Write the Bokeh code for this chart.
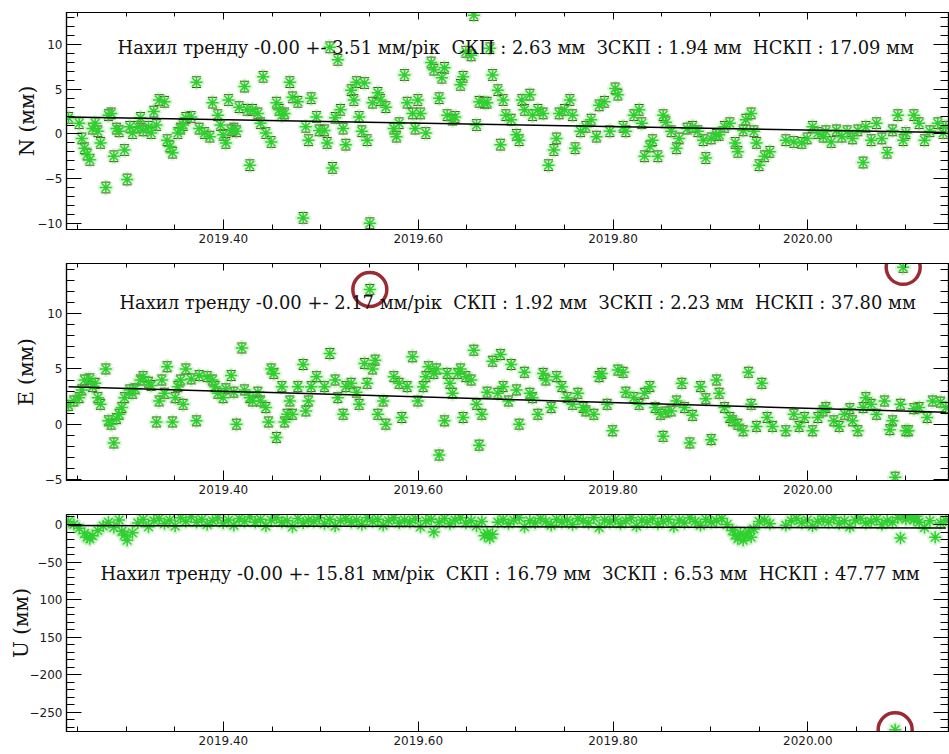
import numpy as np
from bokeh.plotting import figure
from bokeh.layouts import column
from bokeh.models import (FixedTicker, LinearAxis, Label, Range1d,
                          PrintfTickFormatter, CustomJSTickFormatter)
from bokeh.embed import file_html
from bokeh.resources import INLINE

# ---- daily GNSS solutions: epoch = day of year 2019 (values > 365 fall in 2020) ----
n_day = [88, 92, 93, 94, 95, 96, 97, 98, 99, 100,
         102, 103, 104, 105, 106, 107, 109, 110, 111, 112,
         114, 115, 116, 118, 119, 120, 121, 122, 124, 125,
         126, 127, 129, 130, 131, 132, 134, 136, 137, 139,
         141, 142, 144, 145, 146, 147, 148, 149, 150, 151,
         152, 154, 155, 156, 157, 159, 160, 161, 162, 164,
         166, 167, 168, 169, 171, 172, 174, 176, 177, 178,
         179, 181, 182, 184, 185, 186, 187, 188, 189, 190,
         191, 192, 194, 195, 196, 197, 198, 199, 200, 201,
         202, 204, 205, 207, 210, 211, 212, 214, 215, 217,
         218, 219, 220, 222, 224, 225, 227, 228, 229, 230,
         232, 233, 235, 236, 237, 239, 240, 241, 242, 244,
         245, 246, 247, 249, 250, 251, 252, 254, 256, 257,
         258, 259, 261, 262, 264, 266, 268, 270, 271, 272,
         274, 276, 277, 278, 280, 282, 284, 286, 287, 289,
         291, 293, 294, 296, 297, 300, 302, 303, 304, 306,
         307, 309, 311, 312, 314, 316, 317, 320, 322, 324,
         326, 327, 329, 331, 332, 334, 336, 338, 339, 341,
         342, 344, 345, 346, 347, 349, 351, 357, 360, 363,
         365, 367, 369, 371, 372, 374, 376, 378, 380, 382,
         384, 386, 387, 389, 391, 393, 395, 397, 399, 401,
         402, 405, 407, 409, 411, 414, 416, 417]
n_val = [1.8, 1.2, -0.5, -1.6, -2.3, -2.9, 0.6, 1.2, 0.3, -1.0,
         -6.0, 2.1, 2.3, -2.5, 0.6, 0.3, -1.8, -5.1, 0.8, 0.1,
         0.8, 1.8, 0.4, 0.8, 0.1, 2.5, 1.0, 3.8, 3.6, -0.7,
         -1.4, -2.1, 0.1, 0.6, 1.0, 1.8, 1.9, 5.8, 0.6, 0.1,
         -0.3, 3.5, 2.1, 1.0, -0.1, -1.0, 3.8, 0.4, 0.6, 0.3,
         3.0, 5.3, 2.7, -3.5, 2.7, 2.3, 1.2, 6.4, 0.1, -0.9,
         3.5, 2.7, 2.1, 2.3, 5.8, 4.1, 3.6, -9.4, 0.8, -0.7,
         4.0, 1.9, 0.4, 0.4, -1.0, 9.7, -3.8, 1.8, 8.3, 2.7,
         0.6, -1.2, 4.9, 3.8, 5.8, 1.9, 0.3, 5.7, -0.7, -10.0,
         3.5, 4.6, 3.8, 3.0, 0.6, -0.3, 1.2, 6.6, 3.5, 2.3,
         0.6, 3.8, 2.3, 0.1, 8.0, 7.2, 4.0, 6.3, 7.4, 2.1,
         1.6, 1.9, 5.5, 6.4, 9.2, 8.8, 13.3, 1.0, 3.6, 3.5,
         3.5, 9.6, 6.6, 4.9, -1.2, 3.8, 2.1, 1.6, -0.1, -0.7,
         3.8, 2.7, 4.4, 2.1, 2.7, 2.3, -3.5, -1.8, -0.5, 2.3,
         2.7, 3.8, 2.1, -1.6, 0.3, 0.8, 1.6, -0.3, 3.2, 3.6,
         0.3, 5.1, 4.4, 0.8, 0.3, 2.1, 2.7, 1.2, -2.5, -1.4,
         -0.7, -2.5, 2.1, 1.3, 0.3, -1.6, -0.5, 0.6, 0.8, 0.3,
         -0.7, -2.7, -0.5, -0.1, -0.1, 0.8, 1.2, -1.0, -2.0, 0.4,
         1.6, 2.3, 0.3, -1.0, -3.5, -2.5, -2.0, -0.7, -0.9, -1.0,
         -0.5, 0.8, 0.1, -0.3, 0.3, -0.9, 0.4, -0.3, 0.3, -0.5,
         0.4, -3.2, 0.8, -0.7, 1.2, -0.5, -2.1, 0.4, 2.1, -0.7,
         0.1, 2.1, 1.2, -0.7, 0.3, 1.2, 0.1, 0.8]

e_day = [88, 90, 92, 93, 94, 96, 97, 98, 99, 100,
         102, 103, 104, 105, 106, 107, 108, 109, 111, 112,
         113, 115, 116, 118, 119, 121, 122, 123, 124, 125,
         127, 128, 129, 130, 131, 132, 134, 136, 137, 140,
         142, 143, 144, 146, 147, 149, 150, 151, 153, 154,
         156, 157, 159, 160, 162, 163, 164, 165, 166, 168,
         169, 170, 171, 172, 174, 176, 177, 178, 179, 181,
         184, 186, 188, 189, 191, 192, 194, 196, 197, 199,
         200, 201, 202, 203, 204, 206, 207, 210, 212, 213,
         215, 217, 219, 221, 222, 223, 225, 226, 227, 229,
         230, 231, 232, 234, 235, 236, 237, 239, 240, 241,
         242, 243, 245, 247, 249, 250, 251, 253, 254, 256,
         257, 259, 261, 262, 264, 266, 267, 269, 271, 273,
         275, 277, 279, 281, 282, 285, 287, 288, 290, 292,
         294, 296, 297, 300, 302, 304, 306, 308, 310, 311,
         312, 314, 316, 318, 319, 321, 322, 325, 327, 329,
         331, 332, 334, 336, 337, 339, 341, 343, 344, 346,
         348, 350, 352, 357, 360, 362, 364, 367, 369, 371,
         372, 375, 377, 379, 381, 382, 384, 386, 387, 389,
         391, 394, 396, 397, 398, 400, 401, 402, 403, 405,
         407, 410, 412, 415, 417]
e_val = [1.7, 2.1, 2.4, 3.1, 4.0, 4.1, 3.4, 3.7, 2.4, 1.8,
         5.0, 0.3, 0.0, -1.7, 0.5, 0.9, 1.5, 2.4, 3.1, 2.8,
         3.2, 4.0, 4.3, 3.8, 3.5, 0.2, 2.1, 4.0, 2.8, 5.2,
         0.2, 2.4, 3.4, 4.0, 1.8, 5.0, 4.1, 0.3, 4.4, 4.3,
         4.0, 3.4, 2.8, 2.4, 3.2, 4.4, 2.9, 0.0, 6.9, 3.1,
         2.4, 2.1, 2.9, 2.1, 1.5, 0.2, 5.0, 4.6, -1.2, 3.4,
         0.2, 0.9, 2.1, 0.9, 3.4, 5.4, 1.2, 2.1, 3.4, 4.3,
         3.4, 6.4, 4.0, 2.4, 0.9, 3.4, 3.7, 2.9, 1.8, 5.5,
         3.7, 12.2, 5.0, 5.8, 0.9, 2.1, 0.0, 4.3, 3.7, 0.6,
         3.4, 6.1, 2.1, 3.4, 4.3, 5.2, 4.6, 5.0, -2.8, 0.3,
         4.6, 3.7, 2.8, 4.6, 5.0, 0.6, 4.3, 4.0, 6.7, 1.8,
         -1.9, 0.9, 2.9, 5.7, 2.8, 6.3, 3.4, 2.1, 5.4, 3.1,
         0.0, 4.7, 2.8, 2.4, 0.9, 4.6, 4.0, 1.5, 4.3, 3.4,
         2.4, 1.8, 2.8, 1.5, 1.2, 0.9, 4.3, 4.6, 1.8, -0.6,
         4.9, 4.7, 2.9, 2.4, 1.8, 2.8, 3.4, 1.5, 0.9, -1.1,
         1.1, 1.2, 2.1, 3.7, 1.5, -1.7, 0.8, 3.4, 2.3, -1.4,
         4.0, 2.8, 1.5, 0.6, 0.3, 0.0, -0.6, 4.7, 1.8, -0.2,
         3.7, 0.6, -0.2, -0.6, 0.9, -0.2, 0.6, -0.6, 0.6, 1.2,
         1.5, 0.3, -0.2, 0.9, 1.4, 0.3, -0.6, 1.5, 2.4, 1.8,
         0.9, 2.1, -0.5, 0.3, -4.8, 1.8, 14.2, -0.6, -0.6, 1.4,
         1.5, 0.6, 2.1, 2.0, 1.5]

u_day = [88, 90, 92, 94, 95, 96, 97, 99, 101, 103,
         105, 107, 108, 109, 110, 112, 114, 116, 118, 120,
         122, 124, 126, 128, 130, 132, 134, 136, 138, 140,
         142, 144, 146, 148, 150, 152, 154, 156, 158, 160,
         162, 164, 166, 168, 170, 172, 174, 176, 178, 180,
         182, 184, 186, 188, 190, 192, 194, 196, 198, 200,
         202, 204, 206, 208, 210, 212, 214, 216, 218, 220,
         222, 224, 225, 227, 229, 231, 233, 235, 237, 239,
         241, 243, 244, 245, 246, 247, 249, 251, 253, 255,
         257, 259, 261, 263, 265, 267, 269, 271, 273, 275,
         277, 279, 281, 283, 285, 287, 289, 291, 293, 295,
         297, 299, 301, 303, 305, 307, 309, 311, 313, 315,
         317, 319, 321, 323, 325, 327, 329, 331, 333, 335,
         337, 338, 339, 340, 341, 342, 343, 344, 345, 347,
         349, 351, 357, 359, 361, 363, 365, 367, 369, 371,
         373, 375, 377, 379, 381, 383, 385, 387, 389, 391,
         393, 395, 397, 398, 399, 400, 401, 402, 403, 404,
         405, 406, 407, 409, 411, 413, 415, 417]
u_val = [4, 0, -5, -12, -17, -19, -15, -8, -2, 3,
         -4, 6, -9, -14, -21, -11, 2, 7, -3, 5,
         8, 1, 6, -2, 9, 4, 10, 3, 7, 0,
         5, 9, 2, 6, -1, 8, 4, 10, 3, 7,
         -2, 6, 9, 3, 5, -3, 8, 2, 6, 4,
         9, 1, 7, -2, 5, 8, 3, 6, 0, 9,
         4, 7, -1, 5, 9, 2, 6, 3, 8, -3,
         5, 7, -10, 3, 8, 1, 6, 9, 2, 5,
         -2, 4, -15, -12, -18, -13, 3, 7, 1, 6,
         9, -3, 5, 2, 8, 4, -1, 7, 3, 6,
         0, 8, 5, 2, 9, -4, 6, 3, 7, 1,
         5, 9, -2, 6, 3, 8, 1, 4, 7, -3,
         6, 2, 9, 4, -1, 7, 3, 5, 8, 0,
         -8, -14, -19, -12, -21, -16, -10, -17, -6, 4,
         6, 1, -1, 5, 8, 2, 6, -2, 4, 7,
         3, 9, 1, 5, -3, 6, 8, 2, 4, 7,
         0, 5, 3, -273, 9, -18, 12, 7, 14, 10,
         6, 11, 3, -4, 5, -17, 2, 6]

# formal errors (mm) and fitted linear trend at the first / last epoch (mm)
n_sigma, e_sigma = 0.6, 0.45
n_trend = [1.9, 0.15]
e_trend = [3.4, 1.07]
u_trend = [-1.5, -4.5]

# epochs singled out as outliers
e_flagged = [201, 401]
u_flagged = [398]

GAP = "\u00a0 "   # keeps the wider gap between statistics in SVG text
n_text = ("Нахил тренду -0.00 +- 3.51 мм/рік" + GAP + "СКП : 2.63 мм" + GAP
          + "ЗСКП : 1.94 мм" + GAP + "НСКП : 17.09 мм")
e_text = ("Нахил тренду -0.00 +- 2.17 мм/рік" + GAP + "СКП : 1.92 мм" + GAP
          + "ЗСКП : 2.23 мм" + GAP + "НСКП : 37.80 мм")
u_text = ("Нахил тренду -0.00 +- 15.81 мм/рік" + GAP + "СКП : 16.79 мм" + GAP
          + "ЗСКП : 6.53 мм" + GAP + "НСКП : 47.77 мм")

x_ticks = [2019.4, 2019.6, 2019.8, 2020.0]
u_tick_labels = {0: "0", -50: "−50", -100: "100", -150: "150", -200: "−200", -250: "−250"}


def to_year(days):
    return 2019.0 + np.asarray(days, dtype=float) / 365.25


X_RANGE = (float(to_year(87.25)), float(to_year(418.0)))
GREEN = "#2fcf2f"
HALO = "#a8eaa0"
CAP = "#5a4a2a"
RING = "#9b2a33"
SERIF = "DejaVu Serif"
SANS = "DejaVu Sans"
STATS_SIZE = "17.9px"


def style_axis(ax, tick_in, minor_in, labels=True):
    ax.major_tick_in = tick_in
    ax.major_tick_out = 0
    ax.minor_tick_in = minor_in
    ax.minor_tick_out = 0
    ax.axis_line_color = "black"
    ax.axis_line_width = 1.2
    ax.major_tick_line_color = "black"
    ax.minor_tick_line_color = "black"
    ax.major_label_text_font = SANS
    ax.major_label_text_color = "#1a1a1a"
    if labels:
        ax.major_label_text_font_size = "12px"
        ax.major_label_standoff = 4
    else:
        ax.formatter = CustomJSTickFormatter(code="return ''")
        ax.major_label_text_font_size = "0px"
        ax.major_label_standoff = 0


def panel(days, vals, sigma, trend, y_range, y_major, y_minor, ylabel,
          label_standoff, text, text_day, text_y, flagged=(), y_overrides=None):
    t = to_year(days)
    v = np.asarray(vals, dtype=float)
    p = figure(width=949, height=251, output_backend="svg", toolbar_location=None,
               x_range=Range1d(*X_RANGE), y_range=Range1d(*y_range),
               min_border_left=66, min_border_right=1, min_border_top=12,
               min_border_bottom=22)
    p.grid.visible = False
    p.outline_line_color = "black"
    p.outline_line_width = 1.2
    p.background_fill_color = "white"
    p.border_fill_color = "white"

    x_ticker = FixedTicker(ticks=x_ticks,
                           minor_ticks=[round(2019.2 + 0.05 * k, 2) for k in range(21)])
    y_ticker = FixedTicker(ticks=y_major, minor_ticks=y_minor)

    xa = p.xaxis[0]
    xa.ticker = x_ticker
    xa.formatter = PrintfTickFormatter(format="%.2f")
    style_axis(xa, 10, 5)

    ya = p.yaxis[0]
    ya.ticker = y_ticker
    style_axis(ya, 15, 8)
    if y_overrides:
        ya.major_label_overrides = y_overrides
    ya.axis_label = ylabel
    ya.axis_label_text_font = SERIF
    ya.axis_label_text_font_size = "20px"
    ya.axis_label_text_font_style = "normal"
    ya.axis_label_text_color = "#111111"
    ya.axis_label_standoff = label_standoff

    top = LinearAxis(ticker=x_ticker)
    style_axis(top, 7, 4, labels=False)
    p.add_layout(top, "above")
    right = LinearAxis(ticker=y_ticker)
    style_axis(right, 15, 8, labels=False)
    p.add_layout(right, "right")

    # soft glow, error caps, then the asterisks themselves
    p.scatter(t, v, marker="asterisk", size=16, line_color=HALO, line_width=4, line_alpha=0.45)
    if sigma:
        p.scatter(t, v + sigma, marker="dash", size=9, line_color=CAP, line_width=1.0)
        p.scatter(t, v - sigma, marker="dash", size=9, line_color=CAP, line_width=1.0)
    p.scatter(t, v, marker="asterisk", size=12, line_color=GREEN, line_width=1.5)

    p.line(to_year([days[0], days[-1]]), trend, line_color="black", line_width=1.5)

    if flagged:
        idx = [list(days).index(d) for d in flagged]
        p.scatter(t[idx], v[idx], marker="circle", size=34, fill_alpha=0,
                  line_color=RING, line_width=3.5)

    p.add_layout(Label(x=float(to_year(text_day)), y=text_y, text=text,
                       text_font=SERIF, text_font_size=STATS_SIZE,
                       text_color="#111111", text_baseline="alphabetic"))
    return p


p1 = panel(n_day, n_val, n_sigma, n_trend, (-10.7, 13.6),
           [-10, -5, 0, 5, 10], list(range(-10, 14)), "N (мм)", -5,
           n_text, 106.4, 9.7)
p2 = panel(e_day, e_val, e_sigma, e_trend, (-5.1, 14.55),
           [-5, 0, 5, 10], list(range(-5, 15)), "E (мм)", 4,
           e_text, 107.1, 11.0, flagged=e_flagged)
p3 = panel(u_day, u_val, 0, u_trend, (-275.4, 13.3),
           [0, -50, -100, -150, -200, -250], list(range(-270, 11, 10)), "U (мм)", -6,
           u_text, 100.0, -64.9, flagged=u_flagged, y_overrides=u_tick_labels)

layout = column(p1, p2, p3)
open("out.html", "w").write(file_html(layout, INLINE))
